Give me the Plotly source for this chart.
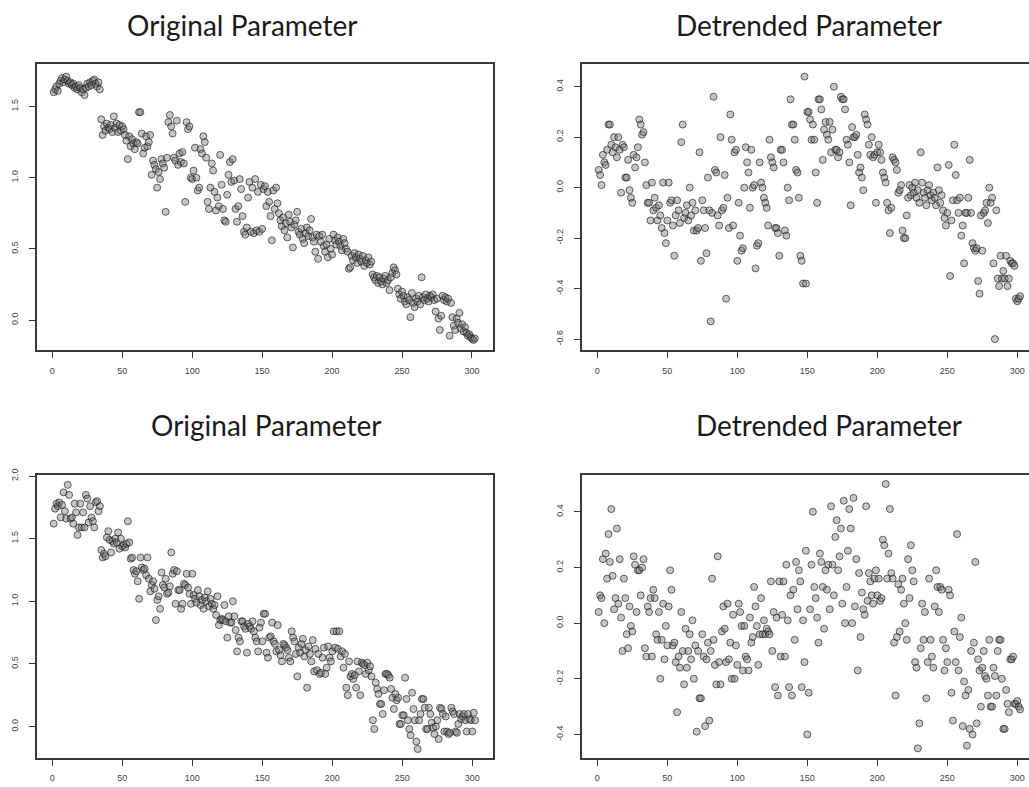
import plotly.graph_objects as go

# ---- series values (index 1..N on the x axis) ----
orig_top = [
    1.60, 1.62, 1.64, 1.61, 1.66, 1.68, 1.70, 1.67, 1.69, 1.71,
    1.68, 1.66, 1.67, 1.65, 1.66, 1.63, 1.64, 1.62, 1.65, 1.63,
    1.60, 1.62, 1.58, 1.63, 1.66, 1.64, 1.67, 1.65, 1.68, 1.69,
    1.66, 1.64, 1.67, 1.62, 1.41, 1.30, 1.36, 1.33, 1.38, 1.35,
    1.34, 1.37, 1.32, 1.43, 1.35, 1.38, 1.32, 1.37, 1.33, 1.36,
    1.34, 1.30, 1.26, 1.13, 1.29, 1.22, 1.27, 1.24, 1.20, 1.25,
    1.24, 1.46, 1.46, 1.31, 1.17, 1.21, 1.29, 1.22, 1.25, 1.30,
    1.02, 1.12, 1.09, 1.06, 0.93, 1.04, 0.99, 1.13, 1.10, 1.07,
    0.76, 1.14, 1.39, 1.44, 1.36, 1.31, 1.14, 1.12, 1.40, 1.09,
    1.17, 1.11, 1.18, 1.10, 0.83, 1.39, 1.34, 1.36, 1.00, 0.99,
    1.05, 1.21, 1.00, 0.91, 0.93, 1.20, 1.17, 1.29, 1.25, 1.14,
    0.83, 0.78, 0.93, 1.10, 1.05, 0.90, 0.77, 0.86, 0.80, 1.16,
    0.95, 0.78, 0.70, 0.69, 0.88, 1.02, 1.11, 0.97, 1.13, 0.98,
    0.78, 0.69, 0.80, 0.99, 0.92, 0.73, 0.62, 0.60, 0.65, 0.86,
    0.97, 0.62, 0.93, 0.61, 0.99, 0.63, 0.90, 0.62, 0.95, 0.64,
    0.92, 0.94, 0.80, 0.90, 0.83, 0.73, 0.56, 0.91, 0.78, 0.93,
    0.82, 0.75, 0.70, 0.66, 0.72, 0.63, 0.68, 0.58, 0.74, 0.69,
    0.65, 0.51, 0.67, 0.70, 0.76, 0.62, 0.60, 0.64, 0.57, 0.54,
    0.61, 0.65, 0.59, 0.63, 0.71, 0.58, 0.55, 0.48, 0.60, 0.43,
    0.59, 0.55, 0.60, 0.52, 0.48, 0.53, 0.44, 0.57, 0.50, 0.46,
    0.60, 0.56, 0.53, 0.58, 0.55, 0.52, 0.49, 0.57, 0.54, 0.50,
    0.48, 0.36, 0.37, 0.45, 0.42, 0.47, 0.44, 0.40, 0.46, 0.43,
    0.41, 0.45, 0.38, 0.42, 0.40, 0.44, 0.39, 0.41, 0.32, 0.30,
    0.28, 0.31, 0.26, 0.30, 0.27, 0.25, 0.29, 0.31, 0.26, 0.28,
    0.21, 0.30, 0.33, 0.37, 0.35, 0.32, 0.22, 0.18, 0.15, 0.20,
    0.17, 0.13, 0.11, 0.16, 0.14, 0.02, 0.19, 0.12, 0.09, 0.15,
    0.13, 0.17, 0.11, 0.30, 0.16, 0.14, 0.18, 0.15, 0.13, 0.17,
    0.16, 0.18, 0.14, 0.06, 0.15, 0.01, -0.07, 0.03, 0.17, 0.14,
    0.16, 0.13, 0.15, -0.11, 0.12, 0.02, -0.04, -0.07, 0.01, -0.02,
    0.05, -0.06, -0.03, -0.08, -0.05, -0.09, -0.11, -0.10, -0.12, -0.13,
    -0.14, -0.13,
]

detr_top = [
    0.07, 0.05, 0.01, 0.13, 0.10, 0.09, 0.15, 0.25, 0.25, 0.17,
    0.14, 0.20, 0.16, 0.12, 0.20, 0.15, -0.02, 0.17, 0.16, 0.04,
    0.04, 0.11, -0.01, -0.04, -0.06, 0.13, 0.08, 0.12, 0.16, 0.27,
    0.25, 0.21, 0.22, 0.10, 0.01, -0.06, -0.06, -0.13, 0.02, -0.09,
    -0.04, -0.08, -0.13, -0.07, -0.11, -0.16, 0.02, -0.18, -0.22, -0.13,
    0.02, -0.06, -0.05, -0.15, -0.27, -0.11, -0.05, -0.09, -0.14, 0.18,
    0.25, -0.12, -0.10, -0.07, -0.13, 0.00, -0.11, -0.06, -0.17, -0.09,
    -0.17, -0.16, 0.14, -0.29, -0.05, -0.09, -0.16, -0.26, 0.04, -0.09,
    -0.53, -0.10, 0.36, 0.07, 0.06, -0.11, -0.15, 0.20, -0.09, -0.08,
    0.05, -0.44, -0.04, -0.16, 0.29, 0.19, -0.15, 0.14, 0.15, -0.29,
    -0.06, -0.19, -0.25, -0.24, 0.00, 0.16, 0.10, 0.06, -0.08, 0.15,
    0.00, 0.01, -0.32, -0.23, -0.22, 0.10, 0.02, 0.00, -0.04, -0.06,
    -0.08, -0.15, 0.19, 0.12, 0.10, 0.08, -0.16, -0.16, -0.18, -0.27,
    0.15, 0.15, 0.10, -0.17, -0.19, 0.00, -0.05, 0.35, 0.25, 0.25,
    0.19, 0.07, 0.06, -0.04, -0.27, -0.29, -0.38, 0.44, -0.38, 0.30,
    0.30, 0.27, 0.19, 0.25, 0.19, 0.06, -0.06, 0.35, 0.35, 0.31,
    0.11, 0.23, 0.26, 0.21, 0.19, 0.26, 0.14, 0.23, 0.40, 0.15,
    0.15, 0.12, 0.14, 0.36, 0.35, 0.35, 0.31, 0.19, 0.17, 0.10,
    -0.07, 0.24, 0.20, 0.20, 0.21, 0.13, 0.06, 0.08, 0.04, -0.01,
    0.29, 0.27, 0.25, 0.17, 0.13, 0.20, 0.12, 0.13, -0.06, 0.14,
    0.17, 0.14, 0.11, 0.06, 0.04, 0.02, -0.06, -0.09, -0.18, -0.08,
    0.12, 0.11, 0.10, 0.07, -0.02, -0.01, 0.01, -0.17, -0.20, -0.20,
    -0.11, -0.04, 0.01, -0.03, 0.00, -0.02, 0.02, -0.04, -0.01, -0.06,
    0.14, 0.02, -0.02, -0.04, -0.07, -0.01, 0.01, -0.03, -0.05, -0.02,
    -0.04, -0.07, 0.08, -0.01, -0.06, -0.03, -0.09, -0.12, -0.15, -0.10,
    0.09, -0.35, -0.13, -0.05, 0.17, 0.05, -0.05, -0.10, -0.04, -0.19,
    -0.15, -0.30, -0.10, -0.10, -0.04, 0.11, -0.10, -0.22, -0.24, -0.25,
    -0.24, -0.37, -0.42, -0.11, -0.25, -0.10, -0.09, -0.06, -0.14, 0.00,
    -0.06, -0.04, -0.30, -0.60, -0.09, -0.36, -0.39, -0.27, -0.36, -0.33,
    -0.36, -0.27, -0.39, -0.36, -0.29, -0.30, -0.30, -0.31, -0.44, -0.45,
    -0.44, -0.43,
]

orig_bottom = [
    1.62, 1.74, 1.78, 1.76, 1.79, 1.67, 1.77, 1.87, 1.72, 1.66,
    1.93, 1.85, 1.66, 1.67, 1.62, 1.78, 1.71, 1.53, 1.59, 1.78,
    1.59, 1.71, 1.59, 1.85, 1.82, 1.63, 1.76, 1.67, 1.64, 1.59,
    1.79, 1.80, 1.72, 1.76, 1.41, 1.35, 1.38, 1.36, 1.51, 1.56,
    1.49, 1.39, 1.48, 1.46, 1.50, 1.47, 1.55, 1.42, 1.50, 1.44,
    1.45, 1.43, 1.46, 1.64, 1.47, 1.34, 1.35, 1.25, 1.22, 1.24,
    1.16, 1.02, 1.35, 1.27, 1.25, 1.26, 1.21, 1.35, 1.18, 1.08,
    1.13, 1.16, 1.10, 0.85, 1.01, 1.04, 0.94, 1.23, 1.13, 1.11,
    1.18, 1.06, 1.07, 1.12, 1.39, 1.22, 1.25, 0.98, 1.24, 1.09,
    1.09, 0.94, 0.98, 1.14, 1.13, 1.22, 1.11, 1.06, 0.98, 1.22,
    1.05, 1.02, 0.99, 1.09, 1.04, 0.97, 1.01, 0.94, 1.03, 1.00,
    1.08, 0.96, 1.02, 0.98, 0.94, 0.97, 0.89, 1.04, 0.81, 0.85,
    0.86, 0.85, 0.97, 0.84, 0.71, 0.88, 0.83, 0.83, 1.00, 0.88,
    0.77, 0.60, 0.71, 0.68, 0.84, 0.84, 0.80, 0.78, 0.59, 0.82,
    0.80, 0.78, 0.84, 0.76, 0.71, 0.68, 0.60, 0.79, 0.83, 0.68,
    0.90, 0.90, 0.59, 0.55, 0.71, 0.72, 0.83, 0.68, 0.66, 0.60,
    0.81, 0.61, 0.57, 0.52, 0.66, 0.65, 0.63, 0.61, 0.55, 0.52,
    0.76, 0.71, 0.68, 0.58, 0.40, 0.63, 0.59, 0.66, 0.70, 0.56,
    0.61, 0.31, 0.64, 0.58, 0.52, 0.69, 0.44, 0.62, 0.45, 0.58,
    0.42, 0.43, 0.55, 0.63, 0.42, 0.47, 0.64, 0.55, 0.52, 0.60,
    0.76, 0.63, 0.76, 0.62, 0.76, 0.56, 0.60, 0.47, 0.58, 0.31,
    0.25, 0.52, 0.40, 0.42, 0.38, 0.41, 0.31, 0.52, 0.44, 0.25,
    0.51, 0.50, 0.49, 0.42, 0.51, 0.45, 0.48, 0.40, 0.05, -0.02,
    0.35, 0.30, 0.26, 0.18, 0.18, 0.10, 0.29, 0.42, 0.42, 0.41,
    0.39, 0.30, 0.23, 0.14, 0.26, 0.21, 0.23, 0.02, 0.02, 0.09,
    0.09, 0.39, 0.22, 0.05, -0.02, -0.07, 0.27, 0.14, 0.05, -0.12,
    -0.18, 0.05, 0.10, 0.22, 0.22, 0.15, -0.02, -0.02, 0.15, 0.10,
    0.03, -0.01, -0.06, 0.00, 0.05, -0.10, 0.15, 0.14, 0.10, -0.04,
    0.08, -0.04, -0.06, -0.05, 0.15, 0.12, 0.10, -0.04, -0.05, 0.02,
    0.10, 0.06, 0.08, 0.10, 0.05, -0.04, 0.10, 0.06, 0.05, -0.04,
    0.11, 0.05,
]

detr_bottom = [
    0.04, 0.10, 0.09, 0.23, 0.00, 0.25, 0.16, 0.32, 0.22, 0.41,
    0.17, 0.05, 0.09, 0.34, 0.07, 0.23, 0.02, -0.10, 0.16, 0.09,
    -0.04, -0.09, 0.06, -0.01, -0.03, 0.24, 0.21, 0.04, 0.19, 0.19,
    0.10, 0.20, 0.23, -0.09, -0.12, 0.06, 0.04, 0.09, -0.12, 0.12,
    0.09, -0.04, -0.06, 0.04, -0.20, -0.06, 0.07, -0.13, -0.01, -0.08,
    0.06, 0.19, 0.12, -0.08, -0.07, -0.14, -0.32, -0.12, -0.16, 0.04,
    -0.10, -0.22, -0.02, -0.16, -0.10, -0.04, -0.13, 0.01, -0.20, -0.08,
    -0.39, -0.10, -0.27, -0.27, -0.04, -0.12, -0.37, -0.13, -0.07, -0.35,
    -0.10, 0.16, -0.06, -0.15, -0.22, 0.24, -0.14, -0.22, -0.03, 0.06,
    -0.02, -0.14, 0.07, -0.13, -0.07, -0.20, 0.03, -0.20, -0.08, -0.15,
    0.07, 0.04, -0.01, -0.17, -0.01, -0.12, -0.13, -0.17, 0.02, -0.07,
    -0.05, 0.13, 0.06, -0.01, -0.15, -0.04, 0.09, -0.04, 0.01, -0.04,
    -0.02, -0.03, -0.04, 0.15, -0.10, 0.04, -0.23, 0.02, -0.26, 0.15,
    -0.12, 0.03, 0.15, -0.12, 0.21, 0.01, -0.23, 0.10, -0.26, 0.12,
    -0.06, 0.22, 0.05, 0.19, 0.15, -0.23, 0.01, -0.14, 0.26, -0.40,
    -0.25, 0.05, 0.21, 0.40, 0.13, 0.09, 0.02, -0.07, 0.25, 0.22,
    0.13, -0.02, 0.19, 0.12, 0.21, 0.05, 0.42, 0.21, 0.10, 0.31,
    0.37, 0.19, 0.24, 0.34, 0.07, 0.44, 0.00, 0.13, 0.26, 0.41,
    0.34, 0.00, 0.45, 0.06, 0.23, -0.17, 0.18, -0.05, 0.11, 0.05,
    0.03, 0.42, 0.08, 0.18, 0.15, 0.10, 0.07, 0.16, 0.19, 0.10,
    0.16, 0.08, 0.09, 0.30, 0.28, 0.50, 0.16, 0.25, 0.41, 0.18,
    0.16, -0.07, -0.26, -0.05, 0.14, -0.03, 0.12, 0.16, 0.07, 0.00,
    -0.06, 0.23, 0.09, 0.28, 0.19, 0.15, -0.14, -0.16, -0.45, -0.36,
    -0.09, 0.07, -0.06, 0.04, -0.27, -0.14, 0.16, -0.06, -0.12, -0.16,
    0.06, 0.19, 0.13, 0.04, 0.13, 0.12, -0.06, -0.17, -0.09, -0.14,
    0.12, 0.10, -0.25, -0.35, -0.03, -0.14, 0.32, -0.17, -0.05, 0.02,
    -0.37, -0.21, -0.26, -0.44, -0.24, -0.38, -0.10, -0.40, -0.07, 0.22,
    -0.36, -0.13, -0.17, -0.30, -0.16, -0.10, -0.19, -0.20, -0.26, -0.06,
    -0.30, -0.30, -0.16, -0.19, -0.26, -0.10, -0.06, -0.06, -0.20, -0.38,
    -0.38, -0.24, -0.29, -0.32, -0.13, -0.13, -0.12, -0.29, -0.29, -0.28,
    -0.30, -0.31,
]

# ---- titles and tick labels ----
titles = ["Original Parameter", "Detrended Parameter",
          "Original Parameter", "Detrended Parameter"]
x_ticks = [0, 50, 100, 150, 200, 250, 300]
y_ticks_orig_top = [0.0, 0.5, 1.0, 1.5]
y_ticks_detr_top = [-0.6, -0.4, -0.2, 0.0, 0.2, 0.4]
y_ticks_orig_bottom = [0.0, 0.5, 1.0, 1.5, 2.0]
y_ticks_detr_bottom = [-0.4, -0.2, 0.0, 0.2, 0.4]

W, H = 1029, 787

# panel frames in pixels: (left, top, right, bottom), axis ranges, right border?
panels = [
    dict(y=orig_top, box=(37, 58, 492.7, 346), xr=(-10.9, 314.8), yr=(-0.21, 1.795),
         yt=y_ticks_orig_top, right=True),
    dict(y=detr_top, box=(581.7, 58, W, 346), xr=(-11.14, 308.36), yr=(-0.643, 0.488),
         yt=y_ticks_detr_top, right=False),
    dict(y=orig_bottom, box=(36.7, 472.3, 492.7, 757.3), xr=(-11.14, 314.57), yr=(-0.248, 2.008),
         yt=y_ticks_orig_bottom, right=True),
    dict(y=detr_bottom, box=(581.7, 472.3, W, 757.3), xr=(-11.14, 308.36), yr=(-0.483, 0.532),
         yt=y_ticks_detr_bottom, right=False),
]

# title centres in pixels
title_pos = [(241.5, 18), (809, 18), (266, 422), (829, 422)]

fig = go.Figure()
layout = dict(
    width=W, height=H,
    margin=dict(l=0, r=0, t=0, b=0),
    paper_bgcolor="white", plot_bgcolor="white",
    showlegend=False,
)

tick_font = dict(family="Liberation Sans, Arial, sans-serif", size=9, color="#444")
frame_col = "#3a3a3a"

for i, p in enumerate(panels, start=1):
    xa = "x" if i == 1 else f"x{i}"
    ya = "y" if i == 1 else f"y{i}"
    xs = list(range(1, len(p["y"]) + 1))
    fig.add_trace(go.Scatter(
        x=xs, y=p["y"], mode="markers", xaxis=xa, yaxis=ya,
        marker=dict(size=7, color="rgba(120,120,120,0.42)",
                    line=dict(color="rgba(20,20,20,0.62)", width=1)),
        hoverinfo="skip",
    ))
    l, t, r, b = p["box"]
    layout["xaxis" if i == 1 else f"xaxis{i}"] = dict(
        domain=[l / W, r / W], range=list(p["xr"]), anchor=ya,
        showgrid=False, zeroline=False,
        showline=True, linecolor=frame_col, linewidth=2, mirror=True,
        ticks="outside", ticklen=6, tickwidth=1, tickcolor=frame_col,
        tickmode="array", tickvals=x_ticks, ticktext=[str(v) for v in x_ticks],
        tickfont=tick_font, ticklabelstandoff=5,
    )
    layout["yaxis" if i == 1 else f"yaxis{i}"] = dict(
        domain=[1 - b / H, 1 - t / H], range=list(p["yr"]), anchor=xa,
        showgrid=False, zeroline=False,
        showline=True, linecolor=frame_col, linewidth=2,
        mirror=True if p["right"] else False,
        ticks="outside", ticklen=6, tickwidth=1, tickcolor=frame_col,
        tickmode="array", tickvals=p["yt"], ticktext=[f"{v:.1f}" for v in p["yt"]],
        tickfont=tick_font, tickangle=-90, ticklabelstandoff=7,
    )

layout["annotations"] = [
    dict(text=txt, xref="paper", yref="paper", x=cx / W, y=1 - cy / H,
         xanchor="center", yanchor="middle", showarrow=False,
         font=dict(family="Lato, Noto Sans, sans-serif", size=28, color="#1a1a1a"))
    for txt, (cx, cy) in zip(titles, title_pos)
]

fig.update_layout(**layout)
fig.write_html("out.html")
